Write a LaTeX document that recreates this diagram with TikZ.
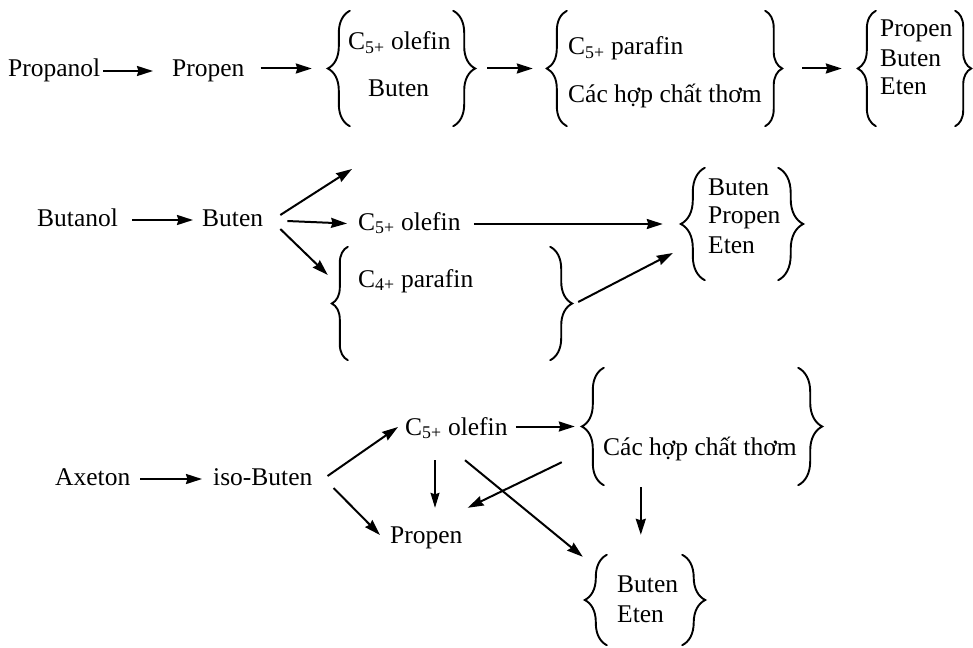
\documentclass[tikz,border=0pt]{standalone}
\usepackage{fontspec}
\setmainfont{Liberation Serif}
\usetikzlibrary{arrows.meta,decorations.pathreplacing,calc}
\begin{document}
\begin{tikzpicture}[x=1pt,y=-1pt,
  txt/.style={font=\fontsize{25.5}{28}\selectfont, inner sep=0pt, anchor=base west, text height=17pt, text depth=5pt},
  grp/.style={draw=none, inner sep=0pt, minimum width=#1},
  brc/.style={decorate, decoration={brace, amplitude=#1}, line width=1.9pt, line cap=round},
  arr/.style={line width=2pt, -{Stealth[length=16pt,width=10pt,inset=1.5pt]}},
  thinarr/.style={line width=1.3pt, -{Stealth[length=15pt,width=9pt,inset=1.5pt]}}
]
\useasboundingbox (0,0) rectangle (973,647);

% ---------- Row 1 ----------
\node[txt] (propanol) at (8,77) {Propanol};
\node[txt] (propenA) at (172,77) {Propen};
\node[grp=103pt, minimum height=115pt] (g1) at (401.5,68.5) {};
\node[txt] (c5oA) at (348,50) {C\textsubscript{5+} olefin};
\node[txt] (butenA) at (368,97) {Buten};
\node[grp=198pt, minimum height=115pt] (g2) at (666,68.5) {};
\node[txt] (c5pA) at (568,55) {C\textsubscript{5+} parafin};
\node[txt] (cacA) at (568,103) {Các hợp chất thơm};
\node[grp=79pt, minimum height=115pt] (g3) at (915.5,68.5) {};
\node[txt] (propenB) at (880,37) {Propen};
\node[txt] (butenB) at (880,67) {Buten};
\node[txt] (etenB) at (880,95) {Eten};

\draw[brc=22pt] (g1.south west) -- (g1.north west);
\draw[brc=22pt] (g1.north east) -- (g1.south east);
\draw[brc=20pt] (g2.south west) -- (g2.north west);
\draw[brc=17pt] (g2.north east) -- (g2.south east);
\draw[brc=18pt] (g3.south west) -- (g3.north west);
\draw[brc=16pt] (g3.north east) -- (g3.south east);

\draw[arr, shorten <=3pt, shorten >=19pt] (propanol.east) -- (propenA.west);
\draw[arr, shorten <=16pt, shorten >=38pt] (propenA.east |- g1.west) -- (g1.west);
\draw[arr, shorten <=34pt, shorten >=34pt] (g1.east) -- (g2.west);
\draw[arr, shorten <=37pt, shorten >=34pt] (g2.east) -- (g3.west);

% ---------- Row 2 ----------
\node[txt] (butanol) at (37,226) {Butanol};
\node[txt] (butenC) at (202,226) {Buten};
\node[txt] (c5oC) at (358,230) {C\textsubscript{5+} olefin};
\node[grp=202pt, minimum height=113pt] (c4g) at (449,303.5) {};
\node[txt] (c4pC) at (358,287) {C\textsubscript{4+} parafin};
\node[grp=73pt, minimum height=112pt] (bpe) at (741.5,224) {};
\node[txt] (butenD) at (708,195) {Buten};
\node[txt] (propenD) at (708,223) {Propen};
\node[txt] (etenD) at (708,253) {Eten};
\coordinate (freeUp) at (352,169);

\draw[brc=16pt] (c4g.south west) -- (c4g.north west);
\draw[brc=22pt] (c4g.north east) -- (c4g.south east);
\draw[brc=24pt] (bpe.south west) -- (bpe.north west);
\draw[brc=25pt] (bpe.north east) -- (bpe.south east);

\draw[arr, shorten <=14pt, shorten >=9pt] (butanol.east) -- (butenC.west);
\draw[arr] ($(butenC.east)+(17,-5)$) -- (freeUp);
\draw[arr, shorten <=24pt, shorten >=11pt] (butenC.east) -- (c5oC.west);
\draw[arr] ($(butenC.east)+(17,9)$) -- ($(c4g.west)+(-20,-28.5)$);
\draw[arr, shorten <=13pt, shorten >=42pt] (c5oC.east |- bpe.west) -- (bpe.west);
\draw[arr] ($(c4g.east)+(28,-1.5)$) -- ($(bpe.west)+(-32,29)$);

% ---------- Row 3 ----------
\node[txt] (axeton) at (55,485) {Axeton};
\node[txt] (isobuten) at (213,485) {iso-Buten};
\node[txt] (c5oE) at (405,435) {C\textsubscript{5+} olefin};
\node[txt] (propenE) at (390,543) {Propen};
\node[grp=194pt, minimum height=117pt] (cac) at (701,426.5) {};
\node[txt] (cacE) at (603,455) {Các hợp chất thơm};
\node[grp=75pt, minimum height=90pt] (beg) at (644.5,600) {};
\node[txt] (butenF) at (617,592) {Buten};
\node[txt] (etenF) at (617,622) {Eten};

\draw[brc=22pt] (cac.south west) -- (cac.north west);
\draw[brc=24pt] (cac.north east) -- (cac.south east);
\draw[brc=22pt] (beg.south west) -- (beg.north west);
\draw[brc=23pt] (beg.north east) -- (beg.south east);

\draw[arr, shorten <=10pt, shorten >=11pt] (axeton.east) -- (isobuten.west);
\draw[arr] ($(isobuten.east)+(15,-3)$) -- ($(c5oE.west)+(-7,-2)$);
\draw[arr] ($(isobuten.east)+(21,9)$) -- ($(propenE.west)+(-10,-2)$);
\draw[arr, shorten <=8pt, shorten >=29pt] (c5oE.east |- cac.west) -- (cac.west);
\draw[thinarr] ($(c5oE.south west)+(30,20)$) -- ($(propenE.north west)+(45,-18)$);
\draw[arr] ($(c5oE.south west)+(60,20)$) -- ($(beg.north west)+(-24,2)$);
\draw[arr] ($(cac.south west)+(-42,-23)$) -- ($(propenE.north east)+(5,-18)$);
\draw[arr] ($(cac.south west)+(37,2)$) -- ($(beg.north west)+(34,-20)$);
\end{tikzpicture}
\end{document}
